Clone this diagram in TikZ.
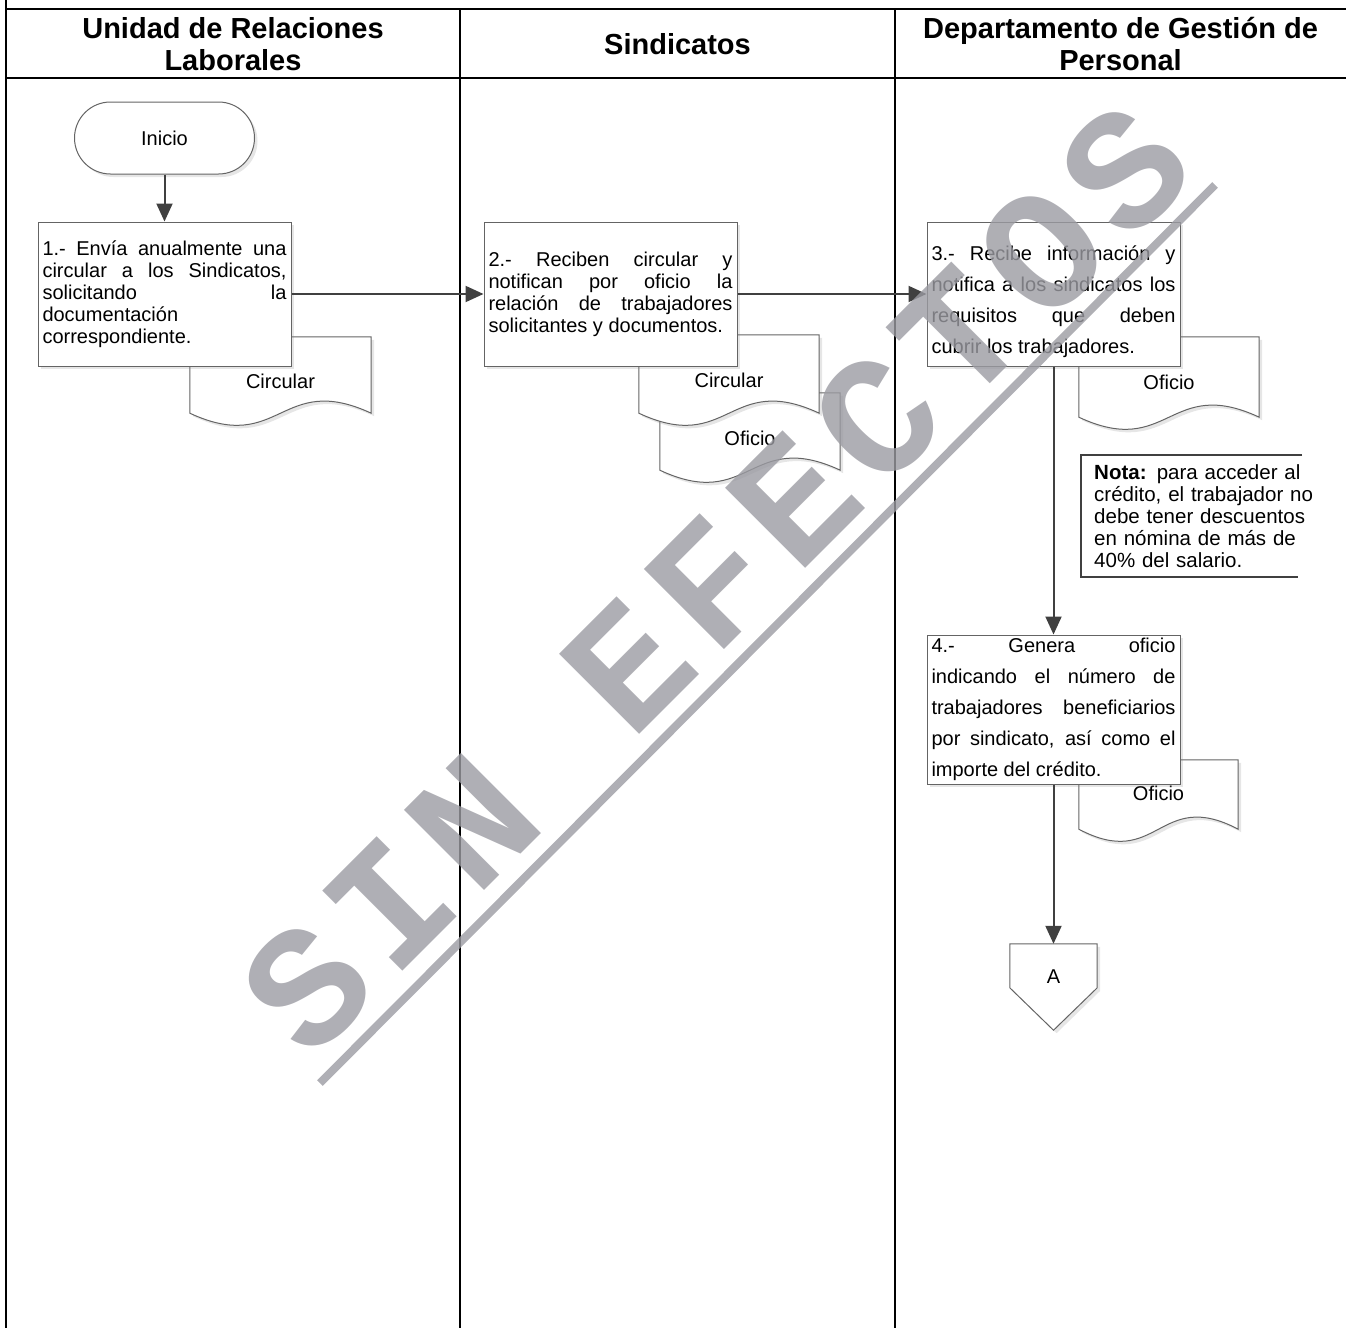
\documentclass[tikz,border=0pt]{standalone}
\usepackage{fontspec}
\setmainfont{Liberation Sans}
\newfontfamily\sellofont{Liberation Mono}[LetterSpace=8]
\usetikzlibrary{arrows.meta,positioning,calc,shadows}

\definecolor{linea}{RGB}{64,64,64}
\definecolor{borde}{RGB}{100,100,100}
\definecolor{sello}{RGB}{155,155,162}

\newcommand{\cuerpo}{\fontsize{20}{22}\selectfont}
\newcommand{\cuerpoalto}{\fontsize{20}{31}\selectfont}

% document sheet: [text shift], name, position, width, height, label
\newcommand{\hoja}[6][6]{%
  \node[hojamarco, minimum width=#4, minimum height=#5] (#2) at (#3) {};
  \path[hojalinea] (#2.south east) -- (#2.north east) -- (#2.north west) -- (#2.south west)
    .. controls ($(#2.south)+(0,42)$) and ($(#2.south)+(0,-42)$) .. (#2.south east) -- cycle;
  \node[font=\cuerpo] (#2-txt) at ($(#2)+(0,#1)$) {#6};
}

\begin{document}
\begin{tikzpicture}[
    x=1pt, y=-1pt,
    lane/.style={line width=2pt, draw=black},
    encabezado/.style={font=\fontsize{29}{32}\selectfont\bfseries, align=center},
    paso/.style={rectangle, draw=borde, fill=white, line width=1pt, minimum width=253pt,
      minimum height=144pt, text width=244pt, inner xsep=4.5pt, align=justify,
      drop shadow={shadow xshift=3pt, shadow yshift=-3pt, opacity=0.2}},
    terminal/.style={rectangle, rounded corners=36pt, draw=borde, fill=white, line width=1pt,
      minimum width=180pt, minimum height=72pt, font=\cuerpo,
      drop shadow={shadow xshift=3pt, shadow yshift=-3pt, opacity=0.2}},
    hojamarco/.style={rectangle, inner sep=0pt},
    hojalinea/.style={draw=borde, fill=white, line width=1pt,
      drop shadow={shadow xshift=3pt, shadow yshift=-3pt, opacity=0.2}},
    nota/.style={text width=240pt, align=left, inner xsep=13pt, inner ysep=0pt,
      minimum height=122pt, font=\fontsize{20.5}{22}\selectfont},
    notalinea/.style={draw=linea, line width=2pt},
    conector/.style={rectangle, inner sep=0pt, minimum width=87pt, minimum height=66pt},
    flecha/.style={-{Triangle[length=18pt,width=16pt]}, draw=linea, line width=2pt},
    marca/.style={font=\sellofont\bfseries\fontsize{172}{172}\selectfont, text=sello,
      text opacity=0.8, inner sep=0pt},
    marcalinea/.style={draw=sello, draw opacity=0.8, line width=8pt}
]
\useasboundingbox (0,0) rectangle (1346,1328);

% swimlanes
\draw[lane] (5.5,0) -- (5.5,1328);
\draw[lane] (5.5,8.5) -- (1346,8.5);
\draw[lane] (5.5,77.5) -- (1346,77.5);
\foreach \x in {460,895}
  \draw[lane] (\x,8.5) -- (\x,1328);

\node[encabezado] (carril1) at (233,44) {Unidad de Relaciones\\Laborales};
\node[encabezado] (carril2) at (677.5,44) {Sindicatos};
\node[encabezado] (carril3) at (1120.5,44) {Departamento de Gestión de\\Personal};

% documents (behind the steps)
\hoja{circ1}{280.5,375}{181pt}{76pt}{Circular}
\hoja[7]{ofi2}{750,431.5}{180pt}{77pt}{Oficio}
\hoja{circ2}{729,374}{180pt}{78pt}{Circular}
\hoja[5]{ofi3}{1169,377}{180pt}{80pt}{Oficio}
\hoja[-1]{ofi4}{1158.5,794.5}{159pt}{69pt}{Oficio}

% steps
\node[paso, font=\cuerpo] (paso1) at (164.5,294) {1.- Envía anualmente una\linebreak circular a los Sindicatos,\linebreak solicitando la\linebreak documentación\linebreak correspondiente.};
\node[terminal, above=47pt of paso1] (inicio) {Inicio};
\node[paso, font=\cuerpo, right=192pt of paso1] (paso2) {2.- Reciben circular y\linebreak notifican por oficio la\linebreak relación de trabajadores\linebreak solicitantes y documentos.};
\node[paso, font=\cuerpoalto, text height=30pt, right=189pt of paso2] (paso3) {3.- Recibe información y\linebreak notifica a los sindicatos los\linebreak requisitos que deben\linebreak cubrir los trabajadores.};
\node[paso, font=\cuerpoalto, below=268pt of paso3] (paso4) {4.- Genera oficio\linebreak indicando el número de\linebreak trabajadores beneficiarios\linebreak por sindicato, así como el\linebreak importe del crédito.};

% note
\node[nota, anchor=west] (aviso) at (1081,516) {\textbf{Nota:} para acceder al\\crédito, el trabajador no\\debe tener descuentos\\en nómina de más de\\40\% del salario.};
\draw[notalinea] ($(aviso.north west)+(221,0)$) -- (aviso.north west) -- (aviso.south west) -- ($(aviso.south west)+(217,0)$);

% off-page connector
\node[conector, below=159pt of paso4] (conA) {};
\path[hojalinea] (conA.north west) -- (conA.north east) -- ++(0,44) -- ($(conA.south)+(0,20)$)
  -- ($(conA.north west)+(0,44)$) -- cycle;
\node[font=\cuerpo] (conA-txt) at (conA) {A};

% flow
\draw[flecha] (inicio.south) -- (paso1.north);
\draw[flecha] (paso1.east) -- (paso2.west);
\draw[flecha] (paso2.east) -- (paso3.west);
\draw[flecha] (paso3.south) -- (paso4.north);
\draw[flecha] (paso4.south) -- (conA.north);

% watermark
\node[marca, rotate=45] (sello) at (716,578) {SIN EFECTOS};
\draw[marcalinea] (320,1083) -- (1215,185);
\end{tikzpicture}
\end{document}
